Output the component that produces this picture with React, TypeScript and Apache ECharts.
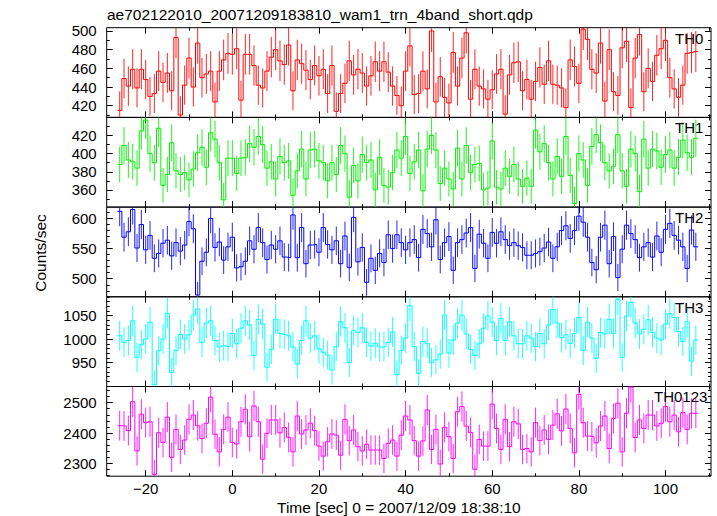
import React, { useEffect, useRef } from "react";
import * as echarts from "echarts";

// first bin centre (s); bins are 1 s wide
const binStart = -26;

const th0 = [415,449,441,459,439,459,448,430,433,457,445,455,436,493,410,442,471,440,487,450,454,457,424,457,469,476,475,481,426,475,475,463,442,439,457,472,480,468,464,485,436,469,465,458,448,463,452,459,433,463,414,433,444,468,453,459,455,441,452,467,457,467,
456,441,431,420,457,484,432,433,457,438,500,424,451,429,423,477,441,471,498,427,459,441,438,427,437,454,459,411,453,466,467,436,448,427,446,461,443,468,443,442,439,418,469,462,444,502,491,459,455,487,425,480,435,431,482,489,418,471,496,435,460,446,474,481,490,450,438,429,442,476,477,478];

const th1 = [388,409,393,391,384,425,437,400,390,428,365,377,412,381,377,379,371,383,401,407,385,423,416,390,349,395,395,378,395,396,411,407,419,410,384,391,372,397,390,392,354,381,405,372,404,405,392,390,370,390,377,409,400,352,387,370,399,390,393,360,396,365,
363,379,404,395,419,378,391,404,359,405,420,404,367,384,372,361,406,372,409,379,388,389,360,362,414,363,361,384,375,388,372,364,373,364,426,402,411,390,372,397,375,419,376,345,400,393,365,408,421,412,390,381,386,421,381,364,405,400,358,416,384,405,403,385,399,404,384,396,415,401,396,417];

const th2 = [612,569,578,615,551,590,548,572,534,542,559,564,538,560,546,556,595,583,473,529,544,600,552,561,531,553,569,518,520,529,563,549,585,560,532,556,549,563,536,535,606,535,585,525,556,557,544,585,557,548,563,525,571,519,602,528,552,494,534,514,542,527,
573,550,573,560,548,560,565,535,582,575,553,598,532,560,570,514,560,565,576,585,517,574,559,534,577,559,578,565,555,560,555,552,539,539,542,545,551,561,534,553,580,588,567,580,604,594,569,527,515,569,589,525,570,502,549,589,575,565,535,553,560,536,571,544,582,592,572,564,553,517,581,553];

const th3 = [1007,993,997,1039,961,988,1000,1036,903,975,1000,1055,929,976,1010,1000,1009,1051,1064,993,1034,1039,997,983,986,984,1012,990,1023,1039,1030,965,1042,1032,940,978,1042,1012,1010,1007,983,947,997,1039,1002,1007,979,972,966,934,984,1037,1024,950,1018,1014,1024,993,985,991,983,984,
993,1015,924,976,1002,1071,984,927,995,991,950,956,968,1051,970,998,1034,1051,1011,978,965,990,1023,1049,1036,997,1044,997,1037,1007,990,990,1007,1002,984,1012,990,1030,1063,1034,1003,1009,991,1012,1046,976,1036,1002,959,1014,1011,1042,1012,1085,961,1049,1078,1034,1011,1021,1041,1014,1002,998,1032,1054,1046,1016,995,1037,953,998];

const th0123 = [2424,2423,2408,2503,2341,2462,2434,2437,2264,2401,2369,2452,2320,2412,2346,2377,2445,2459,2424,2382,2432,2518,2396,2338,2412,2452,2369,2364,2437,2478,2388,2489,2437,2314,2399,2443,2443,2401,2418,2386,2338,2456,2397,2410,2432,2408,2357,2324,2371,2397,2393,2327,2445,2375,2410,2355,2341,2363,2344,2344,2344,2316,
2366,2377,2324,2393,2456,2443,2375,2324,2374,2476,2346,2412,2298,2419,2388,2316,2470,2487,2423,2402,2281,2379,2357,2357,2495,2415,2346,2445,2355,2437,2430,2346,2349,2338,2434,2375,2410,2379,2426,2463,2407,2479,2415,2335,2527,2434,2390,2388,2368,2423,2456,2349,2448,2498,2338,2465,2551,2385,2443,2415,2459,2459,2423,2432,2487,2437,2459,2404,2467,2412,2465,2465];

const panelNames = ["TH0", "TH1", "TH2", "TH3", "TH0123"];
const panelSeries = [th0, th1, th2, th3, th0123];
const panelColors = ["#ff0000", "#00ee00", "#0000ff", "#00ffff", "#ff00ff"];
const yMins = [407.5, 341, 470, 899, 2258];
const yMaxs = [503.5, 440, 619, 1090, 2553];
const yLabelTicks = [
  [420, 440, 460, 480, 500],
  [360, 380, 400, 420],
  [500, 550, 600],
  [950, 1000, 1050],
  [2300, 2400, 2500],
];
const yMajorTicks = [
  [420, 440, 460, 480, 500],
  [360, 380, 400, 420, 440],
  [500, 550, 600],
  [950, 1000, 1050],
  [2300, 2400, 2500],
];
const yMinorTicks = [
  [410, 430, 450, 470, 490],
  [350, 370, 390, 410, 430],
  [480, 490, 510, 520, 530, 540, 560, 570, 580, 590, 610],
  [900, 910, 920, 930, 940, 960, 970, 980, 990, 1010, 1020, 1030, 1040, 1060, 1070, 1080, 1090],
  [2260, 2280, 2320, 2340, 2360, 2380, 2420, 2440, 2460, 2480, 2520, 2540],
];
const xMin = -29;
const xMax = 110.5;
const xMajorTicks = [-20, 0, 20, 40, 60, 80, 100];
const xMinorTicks = [-10, 10, 30, 50, 70, 90, 110];

const titleText = "ae702122010_20071209183810_wam1_trn_4band_short.qdp";
const xTitle = "Time [sec] 0 = 2007/12/09 18:38:10";
const yTitle = "Counts/sec";

const FONT = "'Liberation Sans', Arial, Helvetica, sans-serif";

function fmtNum(v: number): string {
  return v < 0 ? "\u2212" + Math.abs(v) : String(v);
}

function buildOption() {
  const grids: any[] = [];
  const xAxis: any[] = [];
  const yAxis: any[] = [];
  const series: any[] = [];
  const gridLeft = 106.7;
  const gridRight = 711;
  const gridTop0 = 27.7;
  const gridH = 89.7;

  panelSeries.forEach((vals, i) => {
    grids.push({
      left: gridLeft,
      width: gridRight - gridLeft,
      top: gridTop0 + gridH * i,
      height: gridH,
      show: true,
      borderColor: "#000",
      borderWidth: 1,
      backgroundColor: "transparent",
      containLabel: false,
    });
    const xBase = xAxis.length;
    (["bottom", "top"] as const).forEach((pos) => {
      (["major", "minor"] as const).forEach((kind) => {
        const ticks = kind === "major" ? xMajorTicks : xMinorTicks;
        const showLab = i === panelSeries.length - 1 && pos === "bottom" && kind === "major";
        xAxis.push({
          type: "value",
          gridIndex: i,
          min: xMin,
          max: xMax,
          position: pos,
          axisLine: { show: false, onZero: false },
          splitLine: { show: false },
          axisTick: {
            show: true,
            inside: true,
            length: kind === "major" ? 6 : 3,
            customValues: ticks,
            lineStyle: { color: "#000", width: 1 },
          },
          axisLabel: {
            show: showLab,
            customValues: xMajorTicks,
            formatter: (v: number) => fmtNum(v),
            fontSize: 15,
            fontFamily: FONT,
            color: "#000",
            margin: 5,
          },
        });
      });
    });
    const yBase = yAxis.length;
    (["left", "right"] as const).forEach((pos) => {
      (["major", "minor"] as const).forEach((kind) => {
        const ticks = kind === "major" ? yMajorTicks[i] : yMinorTicks[i];
        const showLab = pos === "left" && kind === "major";
        yAxis.push({
          type: "value",
          gridIndex: i,
          min: yMins[i],
          max: yMaxs[i],
          position: pos,
          axisLine: { show: false, onZero: false },
          splitLine: { show: false },
          axisTick: {
            show: true,
            inside: true,
            length: kind === "major" ? 6 : 3,
            customValues: ticks,
            lineStyle: { color: "#000", width: 1 },
          },
          axisLabel: {
            show: showLab,
            customValues: yLabelTicks[i],
            formatter: (v: number) => fmtNum(v),
            fontSize: 15,
            fontFamily: FONT,
            color: "#000",
            margin: 10,
          },
        });
      });
    });

    const color = panelColors[i];
    const stepData: number[][] = [];
    vals.forEach((v, k) => {
      const t = binStart + k;
      stepData.push([t - 0.5, v], [t + 0.5, v]);
    });
    series.push({
      type: "line",
      name: panelNames[i],
      xAxisIndex: xBase,
      yAxisIndex: yBase,
      data: stepData,
      symbol: "none",
      showSymbol: false,
      clip: true,
      silent: true,
      lineStyle: { color, width: 1 },
      z: 3,
    });
    // Poisson error on a 1-s bin: sqrt(rate)
    const errData = vals.map((v, k) => [binStart + k, v, Math.sqrt(v)]);
    series.push({
      type: "custom",
      xAxisIndex: xBase,
      yAxisIndex: yBase,
      data: errData,
      encode: { x: 0, y: 1 },
      silent: true,
      z: 2,
      renderItem: (params: any, api: any) => {
        const t = api.value(0);
        const v = api.value(1);
        const e = api.value(2);
        const p1 = api.coord([t, v - e]);
        const p2 = api.coord([t, v + e]);
        const cs = params.coordSys;
        const clamp = (y: number) => Math.min(Math.max(y, cs.y), cs.y + cs.height);
        return {
          type: "line",
          shape: { x1: p1[0], y1: clamp(p1[1]), x2: p2[0], y2: clamp(p2[1]) },
          style: { stroke: color, lineWidth: 1, opacity: 0.85 },
        };
      },
    });
  });

  const graphic: any[] = [
    {
      type: "text",
      left: 107,
      top: 6,
      style: { text: titleText, fontSize: 15.5, fontFamily: FONT, fill: "#000" },
    },
    {
      type: "text",
      left: 277,
      top: 499,
      style: { text: xTitle, fontSize: 15.5, fontFamily: FONT, fill: "#000" },
    },
    {
      type: "text",
      x: 40,
      y: 253,
      rotation: Math.PI / 2,
      style: {
        text: yTitle,
        fontSize: 15.5,
        fontFamily: FONT,
        fill: "#000",
        align: "center",
        verticalAlign: "middle",
      },
    },
  ];
  const labelX = [675, 675, 675, 675, 654];
  const labelY = [38, 127, 217, 307, 396];
  panelNames.forEach((n, i) => {
    graphic.push({
      type: "text",
      x: labelX[i],
      y: labelY[i],
      z: 10,
      style: { text: n, fontSize: 15, fontFamily: FONT, fill: "#000", verticalAlign: "middle" },
    });
  });

  return {
    animation: false,
    backgroundColor: "#fff",
    grid: grids,
    xAxis,
    yAxis,
    series,
    graphic,
  };
}

export default function App() {
  const ref = useRef<HTMLDivElement>(null);
  useEffect(() => {
    if (!ref.current) return;
    const chart = echarts.init(ref.current, undefined, { renderer: "svg" });
    chart.setOption(buildOption());
    return () => chart.dispose();
  }, []);
  return (
    <div
      ref={ref}
      style={{ position: "fixed", left: 0, top: 0, width: 717, height: 516, background: "#fff" }}
    />
  );
}
